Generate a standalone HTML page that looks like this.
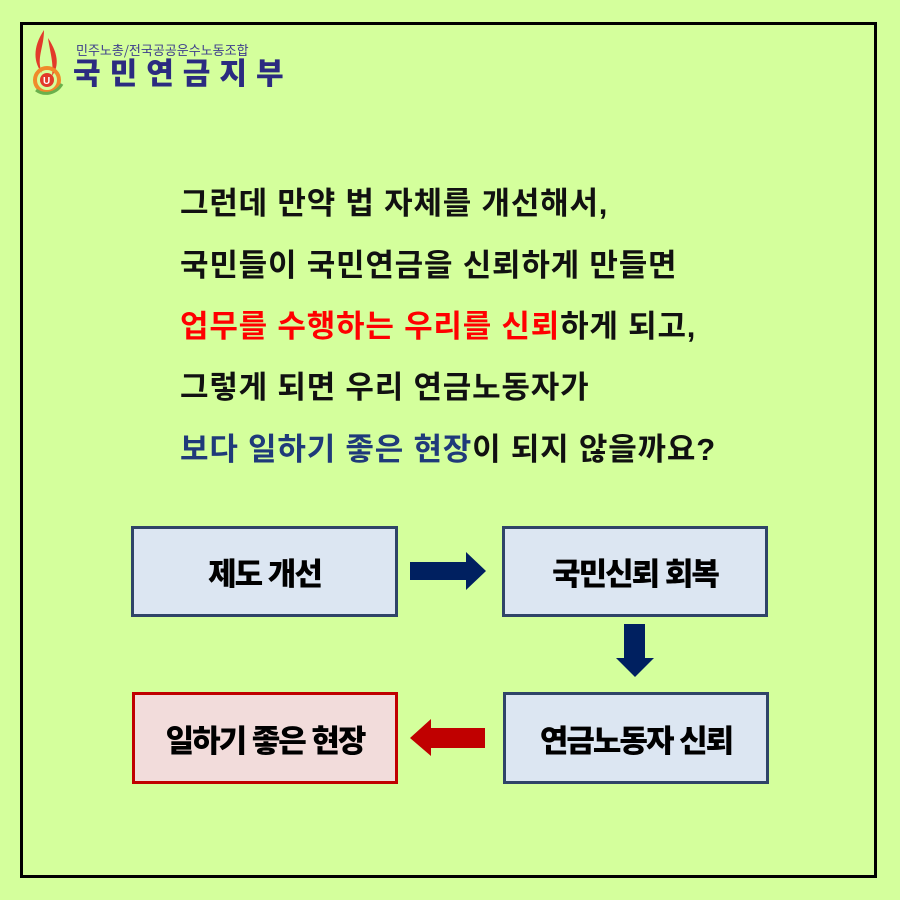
<!DOCTYPE html>
<html><head><meta charset="utf-8"><style>
body{margin:0;width:900px;height:900px;background:#d4ff9c;position:relative;overflow:hidden;font-family:"Liberation Sans","Noto Sans CJK KR",sans-serif}
.frame{position:absolute;left:20px;top:22px;width:851px;height:850px;border:3px solid #000}
.t{position:absolute;left:180px;font-size:31px;font-weight:700;color:#111;white-space:nowrap;letter-spacing:0.8px;word-spacing:0px;line-height:1}
.box{position:absolute;box-sizing:border-box;border:3px solid #2f4468;background:#dce6f2;display:flex;align-items:center;justify-content:center;font-size:31px;font-weight:900;color:#000;letter-spacing:-2px}
.red{border-color:#c00000;background:#f2dcdb}
</style></head><body>
<div class="frame"></div>
<svg style="position:absolute;left:30px;top:28px" width="40" height="70">
<path d="M14 2 C2 20 4 35 12 45 C6 30 14 20 14 2Z" fill="#e23a2a"/>
<path d="M18 10 C30 28 28 40 22 48 C24 36 20 24 18 10Z" fill="#e23a2a"/>
<circle cx="17" cy="52" r="12" fill="none" stroke="#f08a2a" stroke-width="4"/>
<circle cx="17" cy="52" r="7" fill="#e23a2a"/>
<text x="13" y="56" font-size="10" fill="#fff" font-weight="bold" font-family="Liberation Sans">U</text>
<path d="M6 62 C14 68 26 66 32 56" stroke="#6ab04c" stroke-width="3" fill="none"/>
</svg>
<div style="position:absolute;left:76px;top:40px;font-size:13px;color:#3c3c8c;font-family:'Noto Sans CJK KR',sans-serif">민주노총/전국공공운수노동조합</div>
<div style="position:absolute;left:73px;top:56px;font-size:30px;font-weight:900;color:#2b2b80;letter-spacing:9px;line-height:1;font-family:'Noto Sans CJK KR',sans-serif">국민연금지부</div>

<div class="t" style="top:188px">그런데 만약 법 자체를 개선해서,</div>
<div class="t" style="top:250px">국민들이 국민연금을 신뢰하게 만들면</div>
<div class="t" style="top:311px"><span style="color:#ff0000">업무를 수행하는 우리를 신뢰</span>하게 되고,</div>
<div class="t" style="top:372px">그렇게 되면 우리 연금노동자가</div>
<div class="t" style="top:434px"><span style="color:#1f3a7a">보다 일하기 좋은 현장</span>이 되지 않을까요?</div>

<div class="box" style="left:131px;top:526px;width:267px;height:91px">제도 개선</div>
<div class="box" style="left:502px;top:526px;width:266px;height:91px">국민신뢰 회복</div>
<div class="box" style="left:503px;top:692px;width:266px;height:92px">연금노동자 신뢰</div>
<div class="box red" style="left:132px;top:692px;width:266px;height:92px">일하기 좋은 현장</div>

<svg style="position:absolute;left:0;top:0" width="900" height="900">
<polygon points="410,562 466,562 466,552 486,571 466,590 466,580 410,580" fill="#002060"/>
<polygon points="624,624 645,624 645,658 654,658 635,677 616,658 624,658" fill="#002060"/>
<polygon points="485,728 431,728 431,719 410,738 431,756 431,748 485,748" fill="#c00000"/>
</svg>
</body></html>
